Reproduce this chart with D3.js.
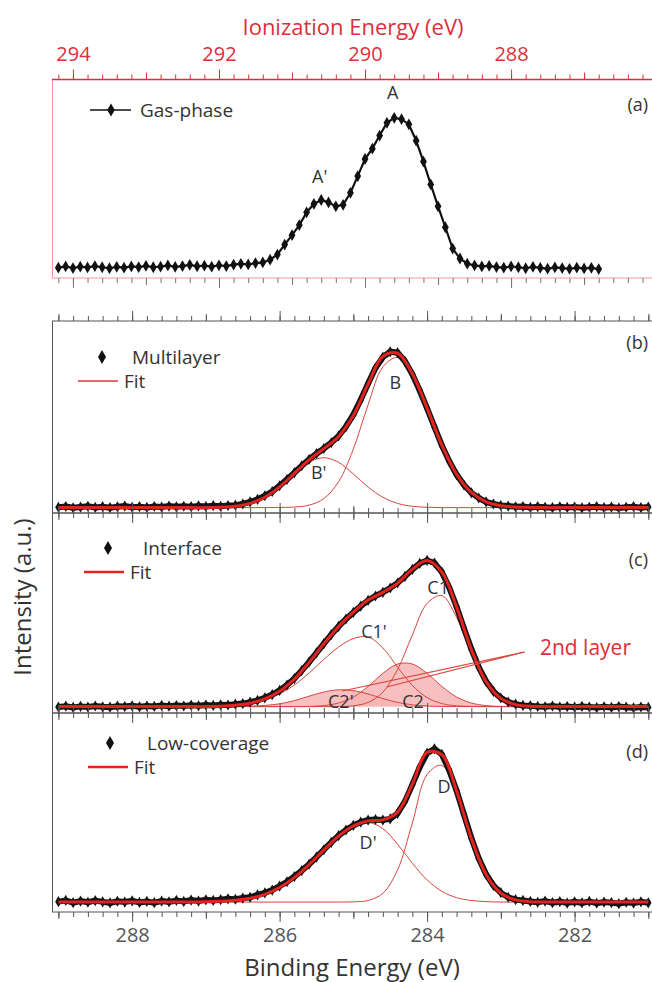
<!DOCTYPE html>
<html>
<head>
<meta charset="utf-8">
<script src="https://cdn.jsdelivr.net/npm/d3@7"></script>
<style>
  body { margin: 0; background: #fff; }
  svg { display: block; font-family: "Open Sans", sans-serif; }
</style>
</head>
<body>
<script>
// gas-phase spectrum (ionization energy, eV)
const gasEnergy = [
  294.2, 294.1, 294.0, 293.9, 293.8, 293.7, 293.6, 293.5, 293.4, 293.3,
  293.2, 293.1, 293.0, 292.9, 292.8, 292.7, 292.6, 292.5, 292.4, 292.3,
  292.2, 292.1, 292.0, 291.9, 291.8, 291.7, 291.6, 291.5, 291.4, 291.3,
  291.2, 291.1, 291.0, 290.9, 290.8, 290.7, 290.6, 290.5, 290.4, 290.3,
  290.2, 290.1, 290.0, 289.9, 289.8, 289.7, 289.6, 289.5, 289.4, 289.3,
  289.2, 289.1, 289.0, 288.9, 288.8, 288.7, 288.6, 288.5, 288.4, 288.3,
  288.2, 288.1, 288.0, 287.9, 287.8, 287.7, 287.6, 287.5, 287.4, 287.3,
  287.2, 287.1, 287.0, 286.9, 286.8
];
const gasIntensity = [
  .052, .058, .050, .057, .053, .060, .054, .049, .056, .052,
  .058, .055, .061, .054, .057, .063, .056, .060, .066, .059,
  .062, .057, .064, .060, .067, .071, .068, .075, .078, .092,
  .118, .168, .215, .266, .330, .372, .392, .380, .360, .368,
  .428, .512, .598, .650, .716, .780, .805, .798, .772, .690,
  .585, .470, .360, .255, .148, .098, .072, .063, .058, .061,
  .055, .052, .058, .054, .049, .056, .051, .047, .053, .050,
  .046, .052, .048, .051, .045
];

// measured spectra (b)-(d), binding energy (eV)
const bindingEnergy = [
  289.0, 288.9, 288.8, 288.7, 288.6, 288.5, 288.4, 288.3, 288.2, 288.1,
  288.0, 287.9, 287.8, 287.7, 287.6, 287.5, 287.4, 287.3, 287.2, 287.1,
  287.0, 286.9, 286.8, 286.7, 286.6, 286.5, 286.4, 286.3, 286.2, 286.1,
  286.0, 285.9, 285.8, 285.7, 285.6, 285.5, 285.4, 285.3, 285.2, 285.1,
  285.0, 284.9, 284.8, 284.7, 284.6, 284.5, 284.4, 284.3, 284.2, 284.1,
  284.0, 283.9, 283.8, 283.7, 283.6, 283.5, 283.4, 283.3, 283.2, 283.1,
  283.0, 282.9, 282.8, 282.7, 282.6, 282.5, 282.4, 282.3, 282.2, 282.1,
  282.0, 281.9, 281.8, 281.7, 281.6, 281.5, 281.4, 281.3, 281.2, 281.1,
  281.0
];
const multilayer = [
  .030, .034, .027, .031, .035, .029, .033, .028, .032, .036,
  .030, .033, .029, .034, .031, .036, .032, .035, .033, .037,
  .034, .038, .035, .039, .041, .047, .058, .071, .090, .112,
  .142, .175, .210, .246, .279, .309, .336, .366, .401, .450,
  .512, .590, .675, .755, .812, .840, .835, .790, .722, .638,
  .545, .448, .352, .270, .200, .146, .105, .078, .058, .047,
  .039, .036, .032, .034, .029, .033, .030, .028, .032, .029,
  .031, .027, .030, .033, .028, .031, .026, .030, .033, .028,
  .031
];
const interfaceData = [
  .030, .034, .028, .033, .030, .035, .031, .029, .034, .032,
  .036, .031, .035, .033, .038, .034, .037, .035, .039, .036,
  .040, .038, .041, .040, .044, .047, .054, .063, .076, .092,
  .113, .140, .172, .212, .255, .301, .347, .392, .433, .470,
  .503, .534, .563, .585, .603, .625, .650, .683, .718, .748,
  .763, .750, .705, .628, .531, .423, .320, .230, .158, .108,
  .075, .055, .044, .038, .036, .033, .031, .035, .030, .032,
  .029, .033, .030, .027, .031, .028, .032, .029, .026, .030,
  .028
];
const lowCoverage = [
  .052, .058, .047, .055, .049, .057, .051, .046, .054, .050,
  .056, .048, .053, .047, .055, .051, .058, .053, .060, .055,
  .061, .058, .062, .066, .064, .070, .074, .086, .096, .110,
  .130, .152, .178, .208, .240, .276, .313, .350, .384, .412,
  .435, .452, .462, .465, .462, .468, .496, .556, .640, .728,
  .798, .820, .792, .712, .610, .490, .372, .270, .190, .133,
  .097, .074, .062, .058, .053, .049, .055, .047, .052, .045,
  .051, .046, .053, .044, .050, .047, .042, .049, .045, .051,
  .046
];

// fit components, sampled every 0.2 eV, height above the fit baseline
const fitEnergy = [
  289.0, 288.8, 288.6, 288.4, 288.2, 288.0, 287.8, 287.6, 287.4, 287.2,
  287.0, 286.8, 286.6, 286.4, 286.2, 286.0, 285.8, 285.6, 285.4, 285.2,
  285.0, 284.8, 284.6, 284.4, 284.2, 284.0, 283.8, 283.6, 283.4, 283.2,
  283.0, 282.8, 282.6, 282.4, 282.2, 282.0, 281.8, 281.6, 281.4, 281.2,
  281.0
];
const baseB = 0.028, baseC = 0.032, baseD = 0.05;
const peakBp = [
  0, 0, 0, 0, 0, 0, 0, 0, 0, 0,
  0, .002, .007, .022, .054, .107, .175, .236, .260, .236,
  .175, .107, .054, .022, .007, .002, 0, 0, 0, 0,
  0, 0, 0, 0, 0, 0, 0, 0, 0, 0, 0
];
const peakB = [
  0, 0, 0, 0, 0, 0, 0, 0, 0, 0,
  0, 0, 0, 0, 0, .001, .003, .013, .047, .135,
  .305, .536, .733, .782, .690, .516, .326, .174, .079, .030,
  .010, .003, .001, 0, 0, 0, 0, 0, 0, 0, 0
];
const peakC1p = [
  0, 0, 0, 0, 0, 0, 0, 0, 0, 0,
  0, .002, .007, .015, .033, .063, .108, .168, .236, .298,
  .340, .348, .293, .197, .106, .045, .015, .004, .001, 0,
  0, 0, 0, 0, 0, 0, 0, 0, 0, 0, 0
];
const peakC1 = [
  0, 0, 0, 0, 0, 0, 0, 0, 0, 0,
  0, 0, 0, 0, 0, 0, 0, 0, 0, 0,
  .004, .021, .072, .186, .358, .516, .555, .446, .267, .120,
  .040, .010, .002, 0, 0, 0, 0, 0, 0, 0, 0
];
const peakC2 = [
  0, 0, 0, 0, 0, 0, 0, 0, 0, 0,
  0, 0, 0, 0, 0, 0, 0, .001, .005, .018,
  .048, .101, .166, .213, .213, .166, .101, .048, .018, .005,
  .001, 0, 0, 0, 0, 0, 0, 0, 0, 0, 0
];
const peakC2p = [
  0, 0, 0, 0, 0, 0, 0, 0, 0, 0,
  0, 0, 0, .002, .006, .014, .030, .052, .073, .084,
  .080, .063, .040, .021, .009, .003, .001, 0, 0, 0,
  0, 0, 0, 0, 0, 0, 0, 0, 0, 0, 0
];
const peakDp = [
  0, 0, 0, 0, 0, 0, 0, 0, 0, 0,
  .001, .004, .009, .019, .039, .073, .123, .188, .261, .331,
  .381, .400, .369, .290, .195, .111, .054, .022, .008, .002,
  0, 0, 0, 0, 0, 0, 0, 0, 0, 0, 0
];
const peakD = [
  0, 0, 0, 0, 0, 0, 0, 0, 0, 0,
  0, 0, 0, 0, 0, 0, 0, 0, 0, 0,
  .001, .008, .044, .162, .397, .641, .687, .536, .312, .136,
  .044, .011, .002, 0, 0, 0, 0, 0, 0, 0, 0
];

// axis ticks
const bindMajor = [282, 284, 286, 288];
const bindMid = [281, 283, 285, 287, 289];
const ionMajor = [288, 290, 292, 294];
const ionMid = [287, 289, 291, 293];

const W = 652, H = 982;
const red = "#dc2f3c";
const fitRed = "#e2231f";
const compRed = "#d8463f";
const ink = "#333";

const svg = d3.select("body").append("svg").attr("width", W).attr("height", H);

const xBind = d3.scaleLinear().domain([289.08, 280.95]).range([52.5, 652]);
const xIon = d3.scaleLinear().domain([294.28, 286.07]).range([52.5, 652]);

const bindMinor = d3.range(281, 289.01, 0.2).map((d) => +d.toFixed(1));
const ionMinor = d3.range(286.2, 294.21, 0.2).map((d) => +d.toFixed(1));

const diamond = d3.symbol().type(d3.symbolDiamond);

function ticks(g, axisFn, scale, values, size, color) {
  g.call(axisFn(scale).tickValues(values).tickSize(size).tickFormat(""))
    .call((s) => s.select(".domain").remove())
    .call((s) => s.selectAll("line").attr("stroke", color));
}

function tickSet(y, axisFn, scale, minor, mid, major, color) {
  const g = svg.append("g").attr("transform", `translate(0,${y})`);
  ticks(g.append("g"), axisFn, scale, minor, 5, color);
  ticks(g.append("g"), axisFn, scale, mid, 7, color);
  ticks(g.append("g"), axisFn, scale, major, 10, color);
  return g;
}

// ---------- panel (a) gas phase ----------
const ya = d3.scaleLinear().domain([0, 1]).range([278, 79]);

svg.append("rect")
  .attr("x", 52.5).attr("y", 79.5).attr("width", 601).attr("height", 198.5)
  .attr("fill", "none").attr("stroke", "#ef9b9f").attr("stroke-width", 1);
svg.append("line")
  .attr("x1", 52).attr("x2", 652).attr("y1", 79.5).attr("y2", 79.5)
  .attr("stroke", red).attr("stroke-width", 1.3);

tickSet(79.5, d3.axisTop, xIon, ionMinor, ionMid, ionMajor, red);
tickSet(278, d3.axisBottom, xIon, ionMinor, ionMid, ionMajor, "#777");

svg.append("g")
  .attr("transform", "translate(0,79.5)")
  .call(d3.axisTop(xIon).tickValues(ionMajor).tickSize(10).tickPadding(9).tickFormat(d3.format("d")))
  .call((g) => g.select(".domain").remove())
  .call((g) => g.selectAll("line").remove())
  .call((g) => g.selectAll("text").attr("fill", red).attr("font-size", 20).attr("font-family", "Open Sans"));

svg.append("text")
  .attr("x", 353).attr("y", 35).attr("text-anchor", "middle")
  .attr("fill", red).attr("font-size", 22)
  .text("Ionization Energy (eV)");

const gasPts = gasEnergy.map((e, i) => [xIon(e), ya(gasIntensity[i])]);
svg.append("path")
  .attr("d", d3.line()(gasPts))
  .attr("fill", "none").attr("stroke", "#111").attr("stroke-width", 2.2);
svg.append("g").selectAll("path").data(gasPts).join("path")
  .attr("transform", (d) => `translate(${d[0]},${d[1]})`)
  .attr("d", diamond.size(40)).attr("fill", "#111");

// legend (a)
svg.append("line").attr("x1", 90).attr("x2", 131).attr("y1", 110).attr("y2", 110)
  .attr("stroke", "#111").attr("stroke-width", 1.6);
svg.append("path").attr("transform", "translate(111,110)").attr("d", diamond.size(50)).attr("fill", "#111");
svg.append("text").attr("x", 140).attr("y", 117).attr("font-size", 19).attr("fill", ink).text("Gas-phase");
svg.append("text").attr("x", 648).attr("y", 111).attr("text-anchor", "end").attr("font-size", 18).attr("fill", ink).text("(a)");

svg.append("text").attr("x", xIon(289.62)).attr("y", ya(0.9)).attr("text-anchor", "middle")
  .attr("font-size", 18).attr("fill", ink).text("A");
svg.append("text").attr("x", xIon(290.62)).attr("y", ya(0.477)).attr("text-anchor", "middle")
  .attr("font-size", 18).attr("fill", ink).text("A'");

// ---------- panels (b)-(d) ----------
function drawPanel(p) {
  const y = d3.scaleLinear().domain([0, 1]).range([p.bottom, p.top]);

  svg.append("rect")
    .attr("x", 52.5).attr("y", p.top).attr("width", 601).attr("height", p.bottom - p.top)
    .attr("fill", "none").attr("stroke", "#555").attr("stroke-width", 1);
  tickSet(p.top, d3.axisTop, xBind, bindMinor, bindMid, bindMajor, "#555");
  tickSet(p.bottom, d3.axisBottom, xBind, bindMinor, bindMid, bindMajor, "#555");

  const curve = d3.curveCatmullRom.alpha(0.5);
  const compLine = d3.line().curve(curve)
    .x((d) => xBind(d[0])).y((d) => y(d[1]));

  // shaded components
  p.comps.filter((c) => c.fill).forEach((c) => {
    const pts = fitEnergy.map((e, i) => [e, p.base + c.values[i]]);
    svg.append("path")
      .attr("d", d3.area().curve(curve)
        .x((d) => xBind(d[0])).y0(y(p.base)).y1((d) => y(d[1]))(pts))
      .attr("fill", "#f6b4b4").attr("opacity", 0.85);
  });

  p.comps.forEach((c) => {
    const pts = fitEnergy.map((e, i) => [e, p.base + c.values[i]]);
    svg.append("path").attr("d", compLine(pts))
      .attr("fill", "none").attr("stroke", compRed).attr("stroke-width", 1);
  });

  // measured points
  const pts = bindingEnergy.map((e, i) => [xBind(e), y(p.data[i])]);
  svg.append("path").attr("d", d3.line()(pts))
    .attr("fill", "none").attr("stroke", "#151515").attr("stroke-width", 6);
  svg.append("g").selectAll("path").data(pts).join("path")
    .attr("transform", (d) => `translate(${d[0]},${d[1]})`)
    .attr("d", diamond.size(36)).attr("fill", "#151515");

  // total fit
  const total = fitEnergy.map((e, i) => [e, p.base + d3.sum(p.comps, (c) => c.values[i])]);
  svg.append("path").attr("d", compLine(total))
    .attr("fill", "none").attr("stroke", fitRed).attr("stroke-width", 3);

  // legend
  const lg = p.legend;
  svg.append("path").attr("transform", `translate(${lg.dx},${lg.dy})`)
    .attr("d", diamond.size(55)).attr("fill", "#111");
  svg.append("text").attr("x", lg.tx).attr("y", lg.dy + 7).attr("font-size", 19)
    .attr("fill", ink).text(p.name);
  svg.append("line").attr("x1", lg.lx).attr("x2", lg.lx + 40)
    .attr("y1", lg.dy + 24).attr("y2", lg.dy + 24)
    .attr("stroke", lg.color || fitRed).attr("stroke-width", lg.width || 2.5);
  svg.append("text").attr("x", lg.lx + 46).attr("y", lg.dy + 31).attr("font-size", 19)
    .attr("fill", ink).text("Fit");

  svg.append("text").attr("x", 648).attr("y", p.tag[1]).attr("text-anchor", "end")
    .attr("font-size", 18).attr("fill", ink).text(p.tag[0]);

  p.labels.forEach((l) => {
    svg.append("text").attr("x", xBind(l[1])).attr("y", y(l[2])).attr("text-anchor", "middle")
      .attr("font-size", 18).attr("fill", ink).text(l[0]);
  });
  return y;
}

drawPanel({
  name: "Multilayer", top: 321, bottom: 513, data: multilayer, base: baseB,
  comps: [{ values: peakBp }, { values: peakB }],
  legend: { dx: 102, dy: 357, tx: 132, lx: 78, color: "#ea6a6a", width: 2 },
  tag: ["(b)", 349],
  labels: [["B", 284.43, 0.646], ["B'", 285.47, 0.177]],
});

const yc = drawPanel({
  name: "Interface", top: 513, bottom: 713, data: interfaceData, base: baseC,
  comps: [
    { values: peakC2, fill: true }, { values: peakC2p, fill: true },
    { values: peakC1p }, { values: peakC1 },
  ],
  legend: { dx: 108, dy: 548, tx: 143, lx: 84 },
  tag: ["(c)", 566],
  labels: [["C1", 283.85, 0.595], ["C1'", 284.72, 0.375], ["C2'", 285.17, 0.025], ["C2", 284.19, 0.025]],
});

drawPanel({
  name: "Low-coverage", top: 713, bottom: 912, data: lowCoverage, base: baseD,
  comps: [{ values: peakDp }, { values: peakD }],
  legend: { dx: 110, dy: 743, tx: 147, lx: 88 },
  tag: ["(d)", 758],
  labels: [["D", 283.77, 0.598], ["D'", 284.8, 0.317]],
});

// "2nd layer" annotation in (c)
[[285.15, 0.11], [284.55, 0.13]].forEach((e) => {
  svg.append("line")
    .attr("x1", xBind(282.68)).attr("y1", yc(0.305))
    .attr("x2", xBind(e[0])).attr("y2", yc(e[1]))
    .attr("stroke", compRed).attr("stroke-width", 1.2);
});
svg.append("text").attr("x", xBind(282.47)).attr("y", yc(0.29))
  .attr("font-size", 21).attr("fill", red).text("2nd layer");

// bottom axis labels
svg.append("g")
  .attr("transform", "translate(0,912)")
  .call(d3.axisBottom(xBind).tickValues(bindMajor).tickSize(10).tickPadding(6).tickFormat(d3.format("d")))
  .call((g) => g.select(".domain").remove())
  .call((g) => g.selectAll("line").remove())
  .call((g) => g.selectAll("text").attr("fill", "#555").attr("font-size", 20).attr("font-family", "Open Sans"));

svg.append("text")
  .attr("x", 352).attr("y", 976).attr("text-anchor", "middle")
  .attr("font-size", 24).attr("fill", ink)
  .text("Binding Energy (eV)");

svg.append("text")
  .attr("transform", "translate(31,597) rotate(-90)")
  .attr("text-anchor", "middle").attr("font-size", 24).attr("fill", ink)
  .text("Intensity (a.u.)");
</script>
</body>
</html>
